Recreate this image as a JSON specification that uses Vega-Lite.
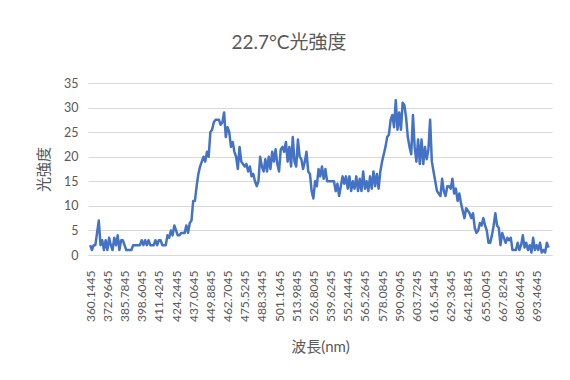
{
  "$schema": "https://vega.github.io/schema/vega-lite/v6.json",
  "autosize": {"type": "none"},
  "padding": {"left": 88, "top": 83, "right": 18, "bottom": 125},
  "width": 464,
  "height": 172,
  "background": "white",
  "config": {
    "font": "Lato, Noto Sans CJK JP, sans-serif",
    "view": {"stroke": null},
    "axis": {
      "labelColor": "#595959",
      "titleColor": "#595959",
      "titleFontWeight": "normal",
      "labelFont": "Lato, Noto Sans CJK JP, sans-serif",
      "titleFont": "Lato, Noto Sans CJK JP, sans-serif"
    }
  },
  "title": {
    "text": "22.7°C光強度",
    "fontSize": 19,
    "fontWeight": "normal",
    "color": "#595959",
    "font": "Lato, Noto Sans CJK JP, sans-serif",
    "anchor": "middle",
    "dx": -31,
    "offset": 24
  },
  "data": {
    "values": [
      {"wl":360.1445,"v":2},{"wl":361.4265,"v":1},{"wl":362.7085,"v":2},{"wl":363.9905,"v":2},{"wl":365.2725,"v":4.5},{"wl":366.5545,"v":7},{"wl":367.8365,"v":2},{"wl":369.1185,"v":3},{"wl":370.4005,"v":1},{"wl":371.6825,"v":3},
      {"wl":372.9645,"v":1},{"wl":374.2465,"v":3.5},{"wl":375.5285,"v":2},{"wl":376.8105,"v":1},{"wl":378.0925,"v":3.5},{"wl":379.3745,"v":2},{"wl":380.6565,"v":4},{"wl":381.9385,"v":1},{"wl":383.2205,"v":3},{"wl":384.5025,"v":3},
      {"wl":385.7845,"v":2},{"wl":387.0665,"v":1},{"wl":388.3485,"v":1},{"wl":389.6305,"v":1},{"wl":390.9125,"v":1},{"wl":392.1945,"v":2},{"wl":393.4765,"v":2},{"wl":394.7585,"v":2},{"wl":396.0405,"v":2},{"wl":397.3225,"v":2},
      {"wl":398.6045,"v":3},{"wl":399.8865,"v":2},{"wl":401.1685,"v":3},{"wl":402.4505,"v":2},{"wl":403.7325,"v":3},{"wl":405.0145,"v":2},{"wl":406.2965,"v":2},{"wl":407.5785,"v":2},{"wl":408.8605,"v":3},{"wl":410.1425,"v":2},
      {"wl":411.4245,"v":3},{"wl":412.7065,"v":3},{"wl":413.9885,"v":2},{"wl":415.2705,"v":2},{"wl":416.5525,"v":2},{"wl":417.8345,"v":4},{"wl":419.1165,"v":3.5},{"wl":420.3985,"v":5},{"wl":421.6805,"v":4},{"wl":422.9625,"v":6},
      {"wl":424.2445,"v":5},{"wl":425.5265,"v":4},{"wl":426.8085,"v":4},{"wl":428.0905,"v":4.5},{"wl":429.3725,"v":4.5},{"wl":430.6545,"v":4.5},{"wl":431.9365,"v":6},{"wl":433.2185,"v":4.5},{"wl":434.5005,"v":6.5},{"wl":435.7825,"v":7},
      {"wl":437.0645,"v":11},{"wl":438.3465,"v":11},{"wl":439.6285,"v":14},{"wl":440.9105,"v":16.5},{"wl":442.1925,"v":18},{"wl":443.4745,"v":19},{"wl":444.7565,"v":20},{"wl":446.0385,"v":19},{"wl":447.3205,"v":21},{"wl":448.6025,"v":20},
      {"wl":449.8845,"v":25},{"wl":451.1665,"v":25.5},{"wl":452.4485,"v":27},{"wl":453.7305,"v":27.5},{"wl":455.0125,"v":27.5},{"wl":456.2945,"v":27.5},{"wl":457.5765,"v":26.5},{"wl":458.8585,"v":27},{"wl":460.1405,"v":29},{"wl":461.4225,"v":24},
      {"wl":462.7045,"v":26},{"wl":463.9865,"v":25},{"wl":465.2685,"v":22},{"wl":466.5505,"v":23},{"wl":467.8325,"v":21},{"wl":469.1145,"v":20},{"wl":470.3965,"v":17.5},{"wl":471.6785,"v":22},{"wl":472.9605,"v":19},{"wl":474.2425,"v":18.5},
      {"wl":475.5245,"v":18},{"wl":476.8065,"v":18.5},{"wl":478.0885,"v":17},{"wl":479.3705,"v":18},{"wl":480.6525,"v":16},{"wl":481.9345,"v":16.5},{"wl":483.2165,"v":15},{"wl":484.4985,"v":14},{"wl":485.7805,"v":15},{"wl":487.0625,"v":20},
      {"wl":488.3445,"v":18},{"wl":489.6265,"v":17},{"wl":490.9085,"v":19.5},{"wl":492.1905,"v":17},{"wl":493.4725,"v":20},{"wl":494.7545,"v":17.5},{"wl":496.0365,"v":21},{"wl":497.3185,"v":19},{"wl":498.6005,"v":21.5},{"wl":499.8825,"v":18.5},
      {"wl":501.1645,"v":17},{"wl":502.4465,"v":21.5},{"wl":503.7285,"v":22},{"wl":505.0105,"v":21},{"wl":506.2925,"v":23},{"wl":507.5745,"v":19},{"wl":508.8565,"v":22},{"wl":510.1385,"v":18},{"wl":511.4205,"v":24},{"wl":512.7025,"v":19},
      {"wl":513.9845,"v":18},{"wl":515.2665,"v":23.5},{"wl":516.5485,"v":20},{"wl":517.8305,"v":19.5},{"wl":519.1125,"v":17.5},{"wl":520.3945,"v":19},{"wl":521.6765,"v":21},{"wl":522.9585,"v":17},{"wl":524.2405,"v":16.5},{"wl":525.5225,"v":13},
      {"wl":526.8045,"v":11.5},{"wl":528.0865,"v":15},{"wl":529.3685,"v":14},{"wl":530.6505,"v":17.5},{"wl":531.9325,"v":16},{"wl":533.2145,"v":18},{"wl":534.4965,"v":15.5},{"wl":535.7785,"v":17.5},{"wl":537.0605,"v":15},{"wl":538.3425,"v":15},
      {"wl":539.6245,"v":15},{"wl":540.9065,"v":15},{"wl":542.1885,"v":15},{"wl":543.4705,"v":13},{"wl":544.7525,"v":14.5},{"wl":546.0345,"v":12},{"wl":547.3165,"v":14},{"wl":548.5985,"v":16},{"wl":549.8805,"v":14.5},{"wl":551.1625,"v":16},
      {"wl":552.4445,"v":13.5},{"wl":553.7265,"v":16},{"wl":555.0085,"v":13},{"wl":556.2905,"v":15},{"wl":557.5725,"v":13.5},{"wl":558.8545,"v":16},{"wl":560.1365,"v":13},{"wl":561.4185,"v":15.5},{"wl":562.7005,"v":13},{"wl":563.9825,"v":17},
      {"wl":565.2645,"v":13.5},{"wl":566.5465,"v":15},{"wl":567.8285,"v":13},{"wl":569.1105,"v":16},{"wl":570.3925,"v":13.5},{"wl":571.6745,"v":17},{"wl":572.9565,"v":14},{"wl":574.2385,"v":16.5},{"wl":575.5205,"v":13.5},{"wl":576.8025,"v":17},
      {"wl":578.0845,"v":19},{"wl":579.3665,"v":20.5},{"wl":580.6485,"v":22},{"wl":581.9305,"v":24},{"wl":583.2125,"v":24.5},{"wl":584.4945,"v":27.5},{"wl":585.7765,"v":28.5},{"wl":587.0585,"v":26},{"wl":588.3405,"v":31.5},{"wl":589.6225,"v":25.5},
      {"wl":590.9045,"v":29},{"wl":592.1865,"v":25.5},{"wl":593.4685,"v":31},{"wl":594.7505,"v":30.5},{"wl":596.0325,"v":28},{"wl":597.3145,"v":24},{"wl":598.5965,"v":22},{"wl":599.8785,"v":20.5},{"wl":601.1605,"v":28.5},{"wl":602.4425,"v":22},
      {"wl":603.7245,"v":19},{"wl":605.0065,"v":23.5},{"wl":606.2885,"v":18.5},{"wl":607.5705,"v":23.5},{"wl":608.8525,"v":18.5},{"wl":610.1345,"v":22},{"wl":611.4165,"v":19.5},{"wl":612.6985,"v":21.5},{"wl":613.9805,"v":27.5},{"wl":615.2625,"v":19},
      {"wl":616.5445,"v":17},{"wl":617.8265,"v":15},{"wl":619.1085,"v":13},{"wl":620.3905,"v":12.5},{"wl":621.6725,"v":12},{"wl":622.9545,"v":15.5},{"wl":624.2365,"v":13},{"wl":625.5185,"v":12},{"wl":626.8005,"v":14},{"wl":628.0825,"v":14},
      {"wl":629.3645,"v":13.5},{"wl":630.6465,"v":15.5},{"wl":631.9285,"v":12.5},{"wl":633.2105,"v":13.5},{"wl":634.4925,"v":11},{"wl":635.7745,"v":12.5},{"wl":637.0565,"v":10.5},{"wl":638.3385,"v":9},{"wl":639.6205,"v":7.5},{"wl":640.9025,"v":9.5},
      {"wl":642.1845,"v":9},{"wl":643.4665,"v":8.5},{"wl":644.7485,"v":7.5},{"wl":646.0305,"v":8.5},{"wl":647.3125,"v":5.5},{"wl":648.5945,"v":4.5},{"wl":649.8765,"v":5},{"wl":651.1585,"v":6.5},{"wl":652.4405,"v":6},{"wl":653.7225,"v":7.5},
      {"wl":655.0045,"v":6},{"wl":656.2865,"v":5},{"wl":657.5685,"v":2.5},{"wl":658.8505,"v":2.5},{"wl":660.1325,"v":4},{"wl":661.4145,"v":6},{"wl":662.6965,"v":8.5},{"wl":663.9785,"v":6},{"wl":665.2605,"v":5.5},{"wl":666.5425,"v":2},
      {"wl":667.8245,"v":4.5},{"wl":669.1065,"v":3.5},{"wl":670.3885,"v":2.5},{"wl":671.6705,"v":3.5},{"wl":672.9525,"v":3},{"wl":674.2345,"v":3.5},{"wl":675.5165,"v":1},{"wl":676.7985,"v":1},{"wl":678.0805,"v":1},{"wl":679.3625,"v":2.5},
      {"wl":680.6445,"v":1},{"wl":681.9265,"v":2},{"wl":683.2085,"v":4},{"wl":684.4905,"v":1.5},{"wl":685.7725,"v":2.5},{"wl":687.0545,"v":1},{"wl":688.3365,"v":2},{"wl":689.6185,"v":0.5},{"wl":690.9005,"v":3.5},{"wl":692.1825,"v":1},
      {"wl":693.4645,"v":2},{"wl":694.7465,"v":1},{"wl":696.0285,"v":2.5},{"wl":697.3105,"v":0.5},{"wl":698.5925,"v":1},{"wl":699.8745,"v":0.5},{"wl":701.1565,"v":2.5},{"wl":702.4385,"v":1.5}
    ]
  },
  "mark": {"type": "line", "color": "#4472C4", "strokeWidth": 2.5, "strokeJoin": "round"},
  "encoding": {
    "x": {
      "field": "wl",
      "type": "quantitative",
      "title": "波長(nm)",
      "scale": {"domain": [358.5, 705], "nice": false, "zero": false},
      "axis": {
        "values": [360.1445, 372.9645, 385.7845, 398.6045, 411.4245, 424.2445, 437.0645, 449.8845, 462.7045, 475.5245, 488.3445, 501.1645, 513.9845, 526.8045, 539.6245, 552.4445, 565.2645, 578.0845, 590.9045, 603.7245, 616.5445, 629.3645, 642.1845, 655.0045, 667.8245, 680.6445, 693.4645],
        "format": ".4f",
        "labelAngle": -90,
        "labelFontSize": 12,
        "labelPadding": 15,
        "labelOverlap": false,
        "labelFlush": false,
        "ticks": false,
        "grid": false,
        "domainColor": "#D9D9D9",
        "domainWidth": 1,
        "titleFontSize": 15,
        "titlePadding": 18
      }
    },
    "y": {
      "field": "v",
      "type": "quantitative",
      "title": "光強度",
      "scale": {"domain": [0, 35], "nice": false},
      "axis": {
        "values": [0, 5, 10, 15, 20, 25, 30, 35],
        "labelFontSize": 12.5,
        "labelPadding": 10,
        "ticks": false,
        "domain": false,
        "gridColor": "#D9D9D9",
        "gridWidth": 1,
        "titleFontSize": 15,
        "titlePadding": 12
      }
    }
  }
}
